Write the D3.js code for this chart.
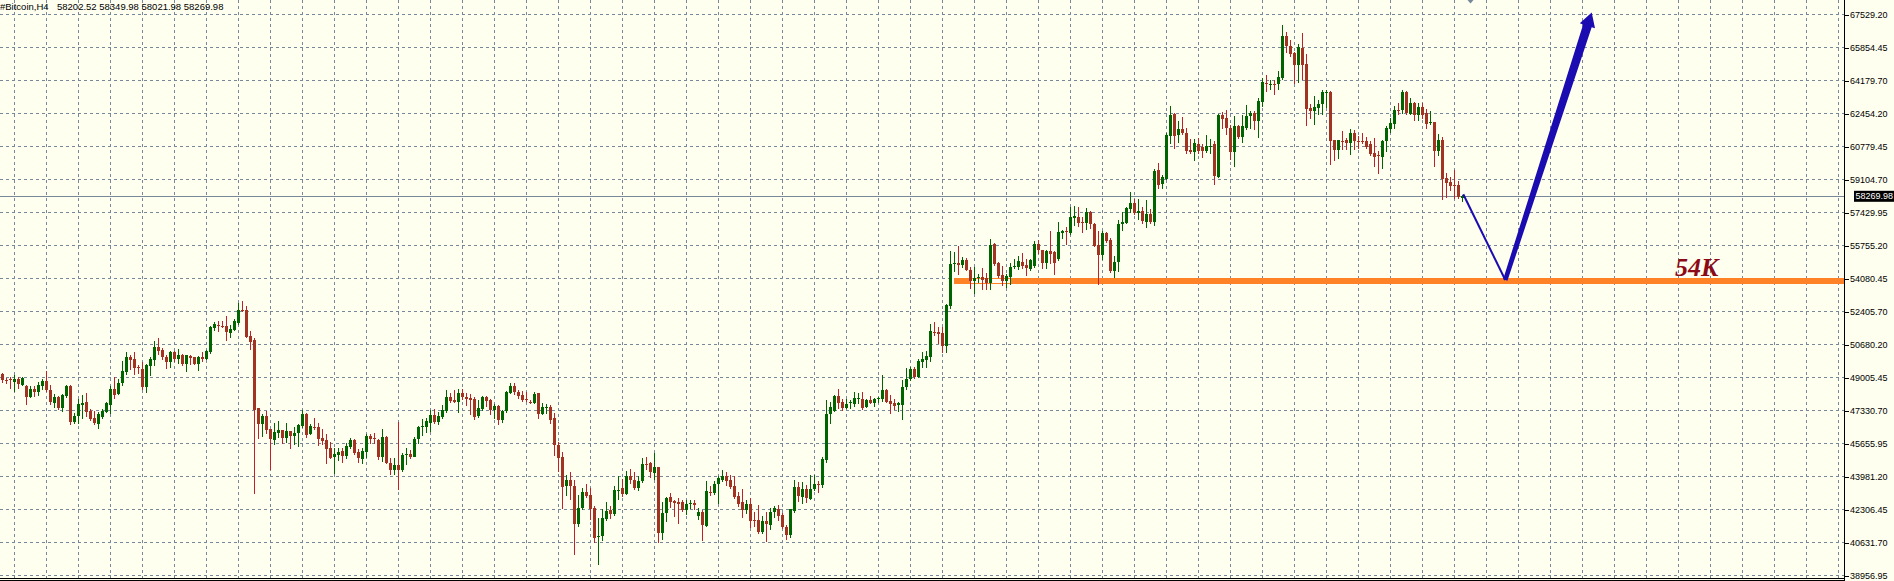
<!DOCTYPE html>
<html>
<head>
<meta charset="utf-8">
<title>#Bitcoin,H4</title>
<script src="https://cdn.jsdelivr.net/npm/d3@7/dist/d3.min.js"></script>
<style>
  html, body { margin: 0; padding: 0; background: #fffff0; overflow: hidden; }
  svg { display: block; }
</style>
</head>
<body>
<svg id="chart" width="1894" height="581"></svg>
<script>
// ---------------- data ----------------
const symbolLabel = "#Bitcoin,H4";
const lastBarText = ["58202.52", "58349.98", "58021.98", "58269.98"];
const lastPrice = 58269.98;

const priceTicks = ["67529.20","65854.45","64179.70","62454.20","60779.45","59104.70",
  "57429.95","55755.20","54080.45","52405.70","50680.20","49005.45","47330.70",
  "45655.95","43981.20","42306.45","40631.70","38956.95"];

const openPrices = [
49227,48938,48955,48804,48972,48668,48617,48073,48464,48328,
48617,48855,48413,47767,48073,47512,48107,48617,46800,47055,
47648,47801,47359,47004,46681,47021,47308,47665,48464,48209,
48753,49346,50077,49992,49576,49482,48532,49652,49941,50604,
50451,50077,49856,50315,49992,50196,49737,50145,50060,49754,
50077,49992,50315,51587,51698,51681,51672,51298,51468,51808,
52488,52488,51162,50960,47495,46681,47055,46426,45865,46205,
46375,45984,46324,46069,46205,46596,47191,46171,46520,46545,
45950,45865,45459,45000,45085,45306,45068,45527,45865,45272,
44881,45272,46086,45958,45865,45017,46035,44711,44337,44592,
44337,45145,45153,45017,45899,46537,46511,46749,47140,46800,
47021,47359,48073,47903,47801,48243,48073,48005,47954,47055,
47427,48073,47903,47393,47597,46885,47325,48277,48583,48311,
48158,47946,47776,47767,48243,47191,47521,47563,47004,45612,
45000,43490,43830,43524,41588,42370,43218,43065,42404,40893,
40944,41843,42268,42098,43320,43405,43133,44034,43830,43422,
43745,44651,44677,44201,44473,41146,42132,42946,42727,42676,
42676,42302,42634,42659,41962,42200,41503,43226,43150,43592,
43830,44000,43830,43524,43014,42676,42268,42608,41800,41792,
41197,41758,41554,42166,42319,42013,41452,41027,42251,43473,
42980,43354,42863,43354,43618,43541,44847,47191,47359,48107,
47801,47512,47767,47699,47996,47954,47563,47903,47767,47980,
47937,48413,47852,47767,47648,47648,48532,48957,49482,49091,
49856,49941,50077,51358,51383,51298,50621,52692,54856,54864,
54746,55035,54526,53931,54144,54135,54101,53846,55833,54849,
54271,53931,54152,54644,54677,54932,54779,54560,54696,55830,
55544,54864,55459,55408,55068,56425,56484,56391,57190,57241,
56986,56935,57462,56867,55765,55287,56392,56052,54490,54949,
56868,56902,57614,57920,57410,57529,56985,57376,56985,59617,
58887,59142,61349,62453,61383,61706,61485,60636,60551,60942,
60806,60602,60806,60925,59278,62419,62266,61774,60551,61825,
61281,61774,62368,62504,62130,63098,64041,63973,63990,63981,
64287,66442,65933,65593,64932,65848,65016,62742,62589,62759,
62963,63565,63591,61112,60636,61069,61146,61010,61519,61104,
61104,61061,60942,60500,60355,60296,61061,61689,61961,62683,
62640,63557,62470,63013,62419,62793,62504,62020,62062,60602,
61146,59193,59023,58862,58853,58202.52];

const highPrices = [
49295,49006,49057,49176,49057,49074,48651,48583,48583,48787,
48972,49397,48668,48192,48107,48192,48668,48668,47257,47971,
48158,48243,47427,47342,47291,47427,47801,48583,49074,48989,
49890,50349,50162,50349,49669,49822,49737,50060,50907,51060,
50536,50196,50400,50400,50485,50247,50196,50196,50077,50128,
50349,50417,51672,51859,51910,51944,52182,51723,52012,52811,
52946,52692,51417,51043,47495,47174,47342,46426,46749,46834,
46392,46715,46341,46511,46681,47376,47257,46681,46970,46715,
46426,46171,45746,45442,45459,45442,45697,45984,45899,45391,
45442,46154,46154,46205,45899,46426,46069,44932,44932,46800,
45187,45442,45357,46035,46596,46919,46970,47393,47444,47274,
47648,48413,48243,48413,48464,48481,48243,48192,48073,47903,
48107,48107,47971,47699,47648,47393,48330,48753,48753,48413,
48345,48294,47903,48294,48277,47767,47699,47648,47225,45780,
45255,44051,44218,43830,43065,43422,43626,43405,42472,41877,
42336,42709,42489,43524,44034,43864,44289,44374,44218,44000,
44932,45017,44745,45187,44507,42676,42980,43150,42811,42896,
42811,42811,42794,42811,42387,42302,43762,43524,43745,44000,
44305,44218,44082,44034,43235,43354,42778,42896,42166,42557,
41996,42166,42387,42472,42540,42132,41537,42353,43830,43694,
43728,43575,44082,44065,43779,45017,47870,47818,48158,48464,
47954,47954,47903,48294,48243,48294,47937,48107,48005,48073,
49176,48447,48158,47937,47818,48923,49516,49567,49601,49975,
50332,50366,51774,51859,51638,51638,52794,55493,55408,55748,
55154,55137,54662,54662,54288,54611,54356,56105,55884,54917,
54730,54322,54866,55069,55238,55374,55068,55085,56000,56051,
55544,55544,56527,55459,56986,56561,56731,57749,57783,57749,
57241,57698,57496,56901,56510,56528,56477,56137,55204,57072,
57480,57750,58498,58124,58124,57750,58090,57614,59651,59957,
59363,61519,62877,62504,62130,62300,61740,61179,61179,61264,
60942,61400,61179,61061,62453,62538,62674,61910,62368,61910,
62419,62929,62589,62589,63268,64287,64457,64202,64202,64627,
67002,66663,66239,65644,66035,66578,65526,62980,63353,63183,
63693,63693,63625,61146,61146,61621,61230,61689,61655,61349,
61485,61281,61095,61230,60602,61146,61825,62249,62877,63013,
63693,63608,63268,63098,63013,63013,62725,62589,62079,61451,
61281,59448,59278,59617,59057,58349.98];

const lowPrices = [
48787,48753,48481,48328,48481,48634,47665,48005,48073,48124,
48413,48311,47665,47512,47427,47308,48039,46630,46681,46715,
46970,47055,46834,46664,46443,46970,47257,47191,47988,48158,
48617,49210,49431,49176,49261,48413,48277,49125,49635,50230,
49941,49482,49550,49856,49771,49652,49346,49686,49703,49397,
49856,49941,50247,51417,51383,51587,50907,51077,51434,51757,
52403,51077,50468,43133,45933,46035,46171,44337,45644,45984,
45695,45729,45408,45612,45527,46494,45984,46120,46409,45578,
45644,44643,44932,44167,44796,44711,44932,45442,45136,44711,
44677,44966,45695,45661,44847,44762,44643,44116,44082,43320,
44252,44592,44932,45000,45695,46069,46239,46290,46715,46664,
46970,47257,47767,47767,47257,47937,47597,47140,46919,47021,
47359,47546,47140,46970,46664,46749,47257,48209,48158,47971,
47801,47818,47699,47699,46970,47140,47191,46681,45051,44252,
42353,43014,42810,40009,41452,42302,42946,41792,40655,39499,
40740,41758,41877,41996,42844,42980,43065,43626,43320,43286,
43694,44337,43949,43830,40638,40774,41707,42438,41962,41588,
42217,42081,42387,42302,41792,40740,41452,43014,43065,42642,
43745,43524,43388,42896,42472,41928,42132,41418,41452,41112,
41078,40689,41282,41928,41758,41333,40808,40910,42166,42727,
42642,42676,42812,43286,43184,43456,44728,46681,47308,47478,
47359,47444,47478,47563,47733,47427,47529,47733,47563,47767,
47818,47767,47225,47394,47310,46885,48447,48889,49006,49040,
49567,49550,49856,51162,50791,50332,50315,52573,54441,54271,
54644,54492,53591,53336,53880,53506,53540,53540,54730,54152,
53710,53625,53761,54611,54526,54577,54220,54492,54645,55374,
54611,54611,54830,54271,55000,56136,55799,56340,56765,56731,
56425,56561,56646,55714,53761,55032,55916,54388,54150,54439,
56528,56868,57461,57325,57070,56868,56698,56868,56783,58683,
58649,59108,60976,60721,61010,61400,60466,60466,60076,60432,
60245,60500,60466,58853,59227,61740,61400,60126,59787,61230,
61010,61655,61740,61655,61264,62843,63608,63693,63438,63693,
64236,65610,65389,64032,64066,64202,61876,62249,61910,62419,
62419,62810,59872,60093,60211,60670,60636,60415,60636,60721,
60976,60721,60330,59787,59448,59702,60551,61536,61740,62419,
62504,62419,62419,62130,62130,62249,61740,61910,59787,60330,
58090,58209,58582,58175,58175,58021.98];

const closePrices = [
48889,48906,48889,48972,48685,49040,48073,48464,48328,48668,
48855,48413,47818,48073,47512,48158,48617,46800,47055,47682,
47750,47308,46936,46715,47157,47325,47733,48464,48175,48770,
49380,50077,49941,49550,49558,48532,49686,49992,50604,50400,
50060,49856,50315,49992,50196,49737,50162,50043,49754,50094,
49992,50366,51621,51791,51680,51664,51349,51502,51944,52488,
52471,51128,50873,47393,46681,47055,46375,45916,46256,46375,
45984,46324,46086,46239,46630,47191,46120,46596,46494,45933,
45814,45408,44966,45153,45255,45068,45561,45865,45221,44932,
45306,46086,45933,45941,45017,46001,44677,44337,44592,44337,
45102,45162,45017,45916,46545,46554,46834,47140,46766,47055,
47393,48073,47869,47801,48243,48039,47971,47903,47021,47495,
48073,47869,47393,47597,46885,47359,48311,48583,48294,48107,
47903,47929,47759,48209,47191,47563,47538,46885,45578,44966,
43439,43830,43490,41588,42404,43201,43014,42336,40842,40978,
41894,42251,42098,43320,43337,43133,44034,43830,43422,43779,
44643,44634,44218,44473,41146,42132,42896,42676,42642,42591,
42302,42608,42651,42523,42183,41554,43286,43209,43626,43898,
44000,43762,43473,42980,42608,42268,42608,41758,41783,41197,
41758,41588,42183,42370,41979,41418,41027,42319,43473,43014,
43354,42880,43354,43626,43600,44898,47191,47546,48124,47767,
47478,47682,47784,47988,48013,47495,47903,47767,47971,47997,
48413,47818,47699,47614,47733,48566,48974,49482,49057,49907,
49992,50111,51417,51341,51264,50621,52743,54830,54873,54746,
55035,54526,53931,54101,54161,54016,53846,55799,54815,54220,
53931,54186,54644,54730,54983,54730,54594,55034,55830,55510,
54864,55459,55340,54864,56476,56527,56467,57207,57275,56901,
56901,57462,56867,55748,55255,56392,56018,54490,54949,56868,
56953,57665,57920,57410,57529,57036,57376,56985,59566,58853,
59244,61400,62419,61349,61689,61485,60602,60551,60976,60602,
60602,60857,60857,59329,62419,62215,61740,60551,61825,61281,
61825,62368,62504,62130,63132,64100,64024,63990,63973,64338,
66442,65933,65525,64966,65865,64966,62708,62589,62810,62980,
63557,63582,61061,60636,61112,61052,61010,61519,61061,61087,
61087,60806,60432,60296,60338,61095,61774,62028,62674,62666,
63557,62504,63047,62419,62793,62419,61961,62037,60602,61146,
59142,58972,58802,58845,58225,58269.98];

// annotations (bar index, price)
const supportLevel = 53956;
const supportStartBar = 237.9;
const supportHollowBars = [241.9, 252.1];
const supportLabel = "54K";
const supportLabelBar = 418.1;
const supportLabelPrice = 54211;
const forecastLeg = [[365.2, 58372], [375.7, 54007]];
const forecastArrow = [[375.7, 54007], [397.3, 67631]];
const shiftMarkerBar = 367;
const gridFirstBar = 3, gridStepBars = 8;

// ---------------- layout / style ----------------
const W = 1894, H = 581;
const axisX = 1844.5;
const bg = "#fffff0", gridColor = "#778899";
const bull = "#006400", bearBody = "#a23322", bearWick = "#c0202a";
const orange = "#ff8227", blue = "#1a0cb0", darkRed = "#8b0a16";
const font = "'Liberation Sans', Arial, sans-serif";

const n = closePrices.length;
const x = d3.scaleLinear().domain([0, n - 1]).range([2.5, 2.5 + 4 * (n - 1)]);
const y = d3.scaleLinear()
  .domain([+priceTicks[priceTicks.length - 1], +priceTicks[0]])
  .range([575.5, 14.5]);

const svg = d3.select("#chart");
svg.append("rect").attr("width", W).attr("height", H).attr("fill", bg);

// nominal (evenly spaced) tick positions carrying the printed labels
const [dMin, dMax] = y.domain();
const tickValues = priceTicks.map((_, k) => dMax - k * (dMax - dMin) / (priceTicks.length - 1));

// grid
const gGrid = svg.append("g")
  .attr("stroke", gridColor).attr("stroke-dasharray", "3,3")
  .attr("shape-rendering", "crispEdges");
gGrid.selectAll("line.h").data(tickValues).join("line").attr("class", "h")
  .attr("x1", 0).attr("x2", axisX - 1)
  .attr("y1", d => y(d)).attr("y2", d => y(d));
const gridBars = d3.range(gridFirstBar, x.invert(axisX - 2), gridStepBars);
gGrid.selectAll("line.v").data(gridBars).join("line").attr("class", "v")
  .attr("x1", d => x(d)).attr("x2", d => x(d))
  .attr("y1", 0).attr("y2", 578);

// current price line
svg.append("line")
  .attr("x1", 0).attr("x2", axisX).attr("y1", y(lastPrice) ).attr("y2", y(lastPrice))
  .attr("stroke", gridColor).attr("shape-rendering", "crispEdges");

// support band
const yS = y(supportLevel);
const bandH = 6;
const band = svg.append("g").attr("shape-rendering", "crispEdges");
band.append("rect").attr("x", x(supportStartBar)).attr("y", yS - bandH / 2)
  .attr("width", x(supportHollowBars[0]) - x(supportStartBar)).attr("height", bandH).attr("fill", orange);
band.append("rect").attr("x", x(supportHollowBars[0]) + 0.5).attr("y", yS - bandH / 2 + 0.5)
  .attr("width", x(supportHollowBars[1]) - x(supportHollowBars[0]) - 1).attr("height", bandH - 1)
  .attr("fill", "none").attr("stroke", orange);
band.append("rect").attr("x", x(supportHollowBars[1])).attr("y", yS - bandH / 2)
  .attr("width", axisX - 1 - x(supportHollowBars[1])).attr("height", bandH).attr("fill", orange);

// candles
const bars = d3.range(n).map(i => ({ i, o: openPrices[i], h: highPrices[i], l: lowPrices[i], c: closePrices[i] }));
const gC = svg.append("g").attr("shape-rendering", "crispEdges");
gC.selectAll("line").data(bars).join("line")
  .attr("x1", d => x(d.i)).attr("x2", d => x(d.i))
  .attr("y1", d => y(d.h)).attr("y2", d => y(d.l) + 0.5)
  .attr("stroke", d => d.c >= d.o ? bull : bearWick);
gC.selectAll("rect").data(bars).join("rect")
  .attr("x", d => x(d.i) - 1.5).attr("width", 3)
  .attr("y", d => y(Math.max(d.o, d.c)))
  .attr("height", d => Math.max(1, Math.abs(y(d.o) - y(d.c))))
  .attr("fill", d => d.c >= d.o ? bull : bearBody);

// forecast lines
const pt = d => [x(d[0]), y(d[1])];
const [l0, l1] = forecastLeg.map(pt);
svg.append("line").attr("x1", l0[0]).attr("y1", l0[1]).attr("x2", l1[0]).attr("y2", l1[1])
  .attr("stroke", blue).attr("stroke-width", 2);
const [a, b] = forecastArrow.map(pt);
const dx = b[0] - a[0], dy = b[1] - a[1], len = Math.hypot(dx, dy);
const ux = dx / len, uy = dy / len, nx = -uy, ny = ux;
const headLen = 14, headW = 16, w0 = 4.5, w1 = 9;
const base = [b[0] - ux * headLen, b[1] - uy * headLen];
const poly = [
  [a[0] + nx * w0 / 2, a[1] + ny * w0 / 2],
  [base[0] + nx * w1 / 2, base[1] + ny * w1 / 2],
  [base[0] + nx * headW / 2, base[1] + ny * headW / 2],
  b,
  [base[0] - nx * headW / 2, base[1] - ny * headW / 2],
  [base[0] - nx * w1 / 2, base[1] - ny * w1 / 2],
  [a[0] - nx * w0 / 2, a[1] - ny * w0 / 2]
];
svg.append("polygon").attr("points", poly.map(p => p.join(",")).join(" ")).attr("fill", blue);

// 54K label
svg.append("text").attr("x", x(supportLabelBar)).attr("y", y(supportLabelPrice))
  .attr("font-family", "'Liberation Serif', 'Times New Roman', serif")
  .attr("font-weight", "bold").attr("font-style", "italic").attr("font-size", 26)
  .attr("fill", darkRed).text(supportLabel);

// chart shift marker
const xm = x(shiftMarkerBar);
svg.append("polygon").attr("points", `${xm - 3},0 ${xm + 3},0 ${xm},3.5`).attr("fill", gridColor);

// bottom double line
svg.append("g").attr("stroke", "#000").attr("shape-rendering", "crispEdges")
  .selectAll("line").data([578.5, 580.5]).join("line")
  .attr("x1", 0).attr("x2", axisX).attr("y1", d => d).attr("y2", d => d);

// right price axis
svg.append("line").attr("x1", axisX).attr("x2", axisX).attr("y1", 0).attr("y2", H)
  .attr("stroke", "#000").attr("shape-rendering", "crispEdges");
const axis = d3.axisRight(y).tickValues(tickValues).tickSize(4).tickPadding(1.5)
  .tickFormat((d, i) => priceTicks[i]);
const gA = svg.append("g").attr("transform", `translate(${axisX},0)`).call(axis);
gA.select(".domain").remove();
gA.selectAll(".tick line").attr("stroke", "#000").attr("shape-rendering", "crispEdges");
gA.selectAll(".tick text").attr("font-family", font).attr("font-size", 9).attr("fill", "#000");

// last price tag
const yl = y(lastPrice);
svg.append("rect").attr("x", axisX + 9.5).attr("y", yl - 5.5).attr("width", 40).attr("height", 11)
  .attr("fill", "#000");
svg.append("text").attr("x", axisX + 11).attr("y", yl).attr("dy", "0.34em")
  .attr("font-family", font).attr("font-size", 9).attr("fill", "#fff").text(lastBarText[3]);

// title
svg.append("text").attr("x", 0).attr("y", 9.5).attr("font-family", font).attr("font-size", 9.5)
  .attr("fill", "#000").text(symbolLabel);
svg.append("text").attr("x", 57).attr("y", 9.5).attr("font-family", font).attr("font-size", 9.5)
  .attr("fill", "#000").text(lastBarText.join(" "));
</script>
</body>
</html>
